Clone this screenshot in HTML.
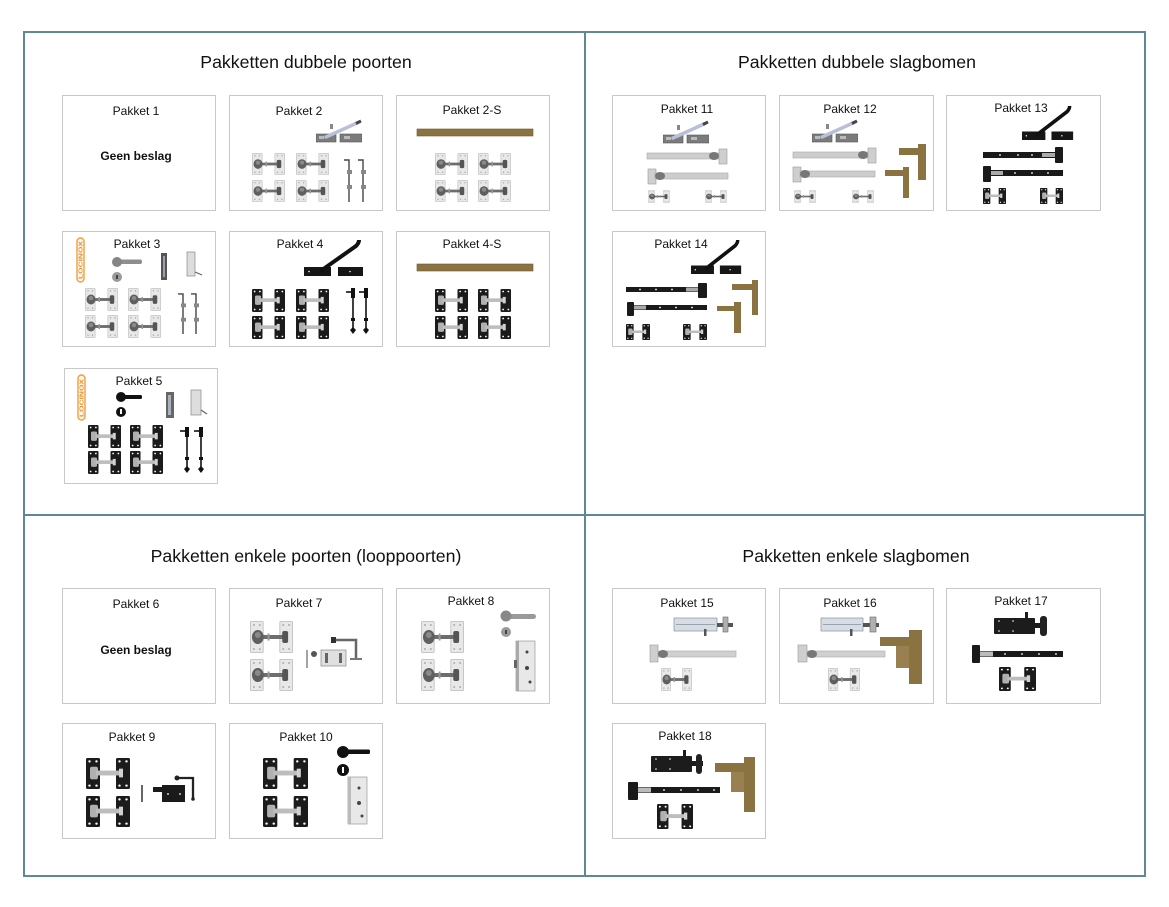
<!DOCTYPE html>
<html>
<head>
<meta charset="utf-8">
<style>
html,body{margin:0;padding:0;background:#fff;}
svg{display:block;}
text{font-family:"Liberation Sans",Arial,sans-serif;}
</style>
</head>
<body>
<svg width="1169" height="907" viewBox="0 0 1169 907" xmlns="http://www.w3.org/2000/svg">
<defs>
  <!-- galvanized hinge pair -->
  <symbol id="hg" viewBox="0 0 44 32" preserveAspectRatio="none">
    <rect x="0.5" y="0.5" width="13" height="31" rx="1" fill="#e8e8e8" stroke="#c6c6c6"/>
    <rect x="30.5" y="0.5" width="13" height="31" rx="1" fill="#e8e8e8" stroke="#c6c6c6"/>
    <circle cx="4" cy="4" r="1" fill="#aaa"/><circle cx="10" cy="4" r="1" fill="#aaa"/>
    <circle cx="4" cy="28" r="1" fill="#aaa"/><circle cx="10" cy="28" r="1" fill="#aaa"/>
    <circle cx="34" cy="4" r="1" fill="#aaa"/><circle cx="40" cy="4" r="1" fill="#aaa"/>
    <circle cx="34" cy="28" r="1" fill="#aaa"/><circle cx="40" cy="28" r="1" fill="#aaa"/>
    <rect x="10" y="14" width="26" height="4" fill="#6d6d6d"/>
    <ellipse cx="8" cy="16" rx="6" ry="7" fill="#5f5f5f"/>
    <ellipse cx="8" cy="14" rx="3" ry="3" fill="#8a8a8a"/>
    <rect x="18" y="12.5" width="2" height="7" fill="#999"/>
    <rect x="33" y="10" width="6" height="12" rx="2" fill="#555"/>
  </symbol>
  <!-- black hinge pair -->
  <symbol id="hb" viewBox="0 0 44 32" preserveAspectRatio="none">
    <rect x="0" y="0" width="14" height="32" rx="1.5" fill="#1b1b1b"/>
    <rect x="30" y="0" width="14" height="32" rx="1.5" fill="#1b1b1b"/>
    <circle cx="3.5" cy="3.5" r="1.2" fill="#fff"/><circle cx="10.5" cy="3.5" r="1.2" fill="#fff"/>
    <circle cx="3.5" cy="28.5" r="1.2" fill="#fff"/><circle cx="10.5" cy="28.5" r="1.2" fill="#fff"/>
    <circle cx="33.5" cy="3.5" r="1.2" fill="#fff"/><circle cx="40.5" cy="3.5" r="1.2" fill="#fff"/>
    <circle cx="33.5" cy="28.5" r="1.2" fill="#fff"/><circle cx="40.5" cy="28.5" r="1.2" fill="#fff"/>
    <rect x="4" y="9" width="8" height="13" rx="2" fill="#b0b0b0"/>
    <rect x="10" y="13" width="25" height="5" fill="#bdbdbd"/>
    <rect x="33" y="11" width="4" height="9" fill="#d0d0d0"/>
  </symbol>
  <!-- galvanized drop bolt -->
  <symbol id="dg" viewBox="0 0 12 44" preserveAspectRatio="none">
    <path d="M1 2 H6 V44" stroke="#444" stroke-width="1.4" fill="none"/>
    <rect x="4" y="12" width="5" height="4" fill="#888"/>
    <rect x="4" y="27" width="5" height="4" fill="#888"/>
  </symbol>
  <!-- black drop bolt -->
  <symbol id="dk" viewBox="0 0 12 47" preserveAspectRatio="none">
    <line x1="7" y1="2" x2="7" y2="44" stroke="#111" stroke-width="1.6"/>
    <rect x="5" y="0" width="4" height="10" fill="#111"/>
    <line x1="0" y1="4" x2="5" y2="4" stroke="#111" stroke-width="1.6"/>
    <rect x="5" y="30" width="4" height="3" fill="#111"/>
    <path d="M7 39 L10 42 L7 46 L4 42Z" fill="#111"/>
  </symbol>
  <!-- galvanized latch -->
  <symbol id="lg" viewBox="0 0 46 24" preserveAspectRatio="none">
    <rect x="0" y="15" width="20" height="8" fill="#7b7b7b" stroke="#555" stroke-width="0.6"/>
    <rect x="24" y="15" width="22" height="8" fill="#7b7b7b" stroke="#555" stroke-width="0.6"/>
    <rect x="3" y="17" width="5" height="3" fill="#bbb"/><rect x="28" y="17" width="6" height="3" fill="#bbb"/>
    <line x1="10" y1="18" x2="41" y2="4" stroke="#b8bfd8" stroke-width="3.5" stroke-linecap="round"/>
    <line x1="40" y1="4.5" x2="45" y2="2" stroke="#444" stroke-width="3"/>
    <rect x="14" y="5" width="3" height="5" fill="#888"/>
  </symbol>
  <!-- black latch -->
  <symbol id="lk" viewBox="0 0 60 36" preserveAspectRatio="none">
    <rect x="0" y="27" width="27" height="9" fill="#161616"/>
    <rect x="34" y="27" width="25" height="9" fill="#161616"/>
    <circle cx="5" cy="31.5" r="0.8" fill="#fff"/><circle cx="46" cy="31.5" r="0.8" fill="#fff"/>
    <path d="M18 30 L52 6 Q55 3 55 0" stroke="#111" stroke-width="4" fill="none" stroke-linecap="round"/>
  </symbol>
</defs>

<rect width="1169" height="907" fill="#fff"/>

<!-- frame -->
<rect x="24" y="32" width="1121" height="844" fill="none" stroke="#5e8898" stroke-width="2"/>
<line x1="585" y1="32" x2="585" y2="876" stroke="#5e8898" stroke-width="2"/>
<line x1="24" y1="515" x2="1145" y2="515" stroke="#5e8898" stroke-width="2"/>

<!-- titles -->
<g font-size="17.7" fill="#111" text-anchor="middle">
  <text x="306" y="68">Pakketten dubbele poorten</text>
  <text x="857" y="68">Pakketten dubbele slagbomen</text>
  <text x="306" y="562">Pakketten enkele poorten (looppoorten)</text>
  <text x="856" y="562">Pakketten enkele slagbomen</text>
</g>

<!-- boxes -->
<g fill="none" stroke="#c8c8c8" stroke-width="1">
  <rect x="62.5" y="95.5" width="153" height="115"/>
  <rect x="229.5" y="95.5" width="153" height="115"/>
  <rect x="396.5" y="95.5" width="153" height="115"/>
  <rect x="62.5" y="231.5" width="153" height="115"/>
  <rect x="229.5" y="231.5" width="153" height="115"/>
  <rect x="396.5" y="231.5" width="153" height="115"/>
  <rect x="64.5" y="368.5" width="153" height="115"/>
  <rect x="612.5" y="95.5" width="153" height="115"/>
  <rect x="779.5" y="95.5" width="154" height="115"/>
  <rect x="946.5" y="95.5" width="154" height="115"/>
  <rect x="612.5" y="231.5" width="153" height="115"/>
  <rect x="62.5" y="588.5" width="153" height="115"/>
  <rect x="229.5" y="588.5" width="153" height="115"/>
  <rect x="396.5" y="588.5" width="153" height="115"/>
  <rect x="62.5" y="723.5" width="153" height="115"/>
  <rect x="229.5" y="723.5" width="153" height="115"/>
  <rect x="612.5" y="588.5" width="153" height="115"/>
  <rect x="779.5" y="588.5" width="154" height="115"/>
  <rect x="946.5" y="588.5" width="154" height="115"/>
  <rect x="612.5" y="723.5" width="153" height="115"/>
</g>

<!-- labels -->
<g font-size="12" fill="#111" text-anchor="middle">
  <text x="136" y="115">Pakket 1</text>
  <text x="299" y="115">Pakket 2</text>
  <text x="472" y="114">Pakket 2-S</text>
  <text x="137" y="248">Pakket 3</text>
  <text x="300" y="248">Pakket 4</text>
  <text x="472" y="248">Pakket 4-S</text>
  <text x="139" y="385">Pakket 5</text>
  <text x="687" y="113">Pakket 11</text>
  <text x="850" y="113">Pakket 12</text>
  <text x="1021" y="112">Pakket 13</text>
  <text x="681" y="248">Pakket 14</text>
  <text x="136" y="608">Pakket 6</text>
  <text x="299" y="607">Pakket 7</text>
  <text x="471" y="605">Pakket 8</text>
  <text x="132" y="741">Pakket 9</text>
  <text x="306" y="741">Pakket 10</text>
  <text x="687" y="607">Pakket 15</text>
  <text x="850" y="607">Pakket 16</text>
  <text x="1021" y="605">Pakket 17</text>
  <text x="685" y="740">Pakket 18</text>
</g>
<g font-size="12" font-weight="bold" fill="#111" text-anchor="middle">
  <text x="136" y="160">Geen beslag</text>
  <text x="136" y="654">Geen beslag</text>
</g>

<!-- Pakket 2 -->
<use href="#lg" x="316" y="119" width="46" height="24"/>
<use href="#hg" x="252" y="153" width="33" height="22"/>
<use href="#hg" x="296" y="153" width="33" height="22"/>
<use href="#hg" x="252" y="180" width="33" height="22"/>
<use href="#hg" x="296" y="180" width="33" height="22"/>
<use href="#dg" x="343" y="158" width="12" height="44"/>
<use href="#dg" x="357" y="158" width="12" height="44"/>

<!-- Pakket 2-S -->
<rect x="417" y="129" width="116" height="7" fill="#8b7241" stroke="#6d5a30" stroke-width="0.6"/>
<use href="#hg" x="435" y="153" width="33" height="22"/>
<use href="#hg" x="478" y="153" width="33" height="22"/>
<use href="#hg" x="435" y="180" width="33" height="22"/>
<use href="#hg" x="478" y="180" width="33" height="22"/>

<!-- Pakket 3 -->
<rect x="77" y="238" width="7" height="44" rx="3.5" fill="#fff8ee" stroke="#f0a040" stroke-width="1.4"/>
<text transform="translate(82.5,279) rotate(-90)" font-size="5.5" font-weight="bold" fill="#e8902a" textLength="38" lengthAdjust="spacingAndGlyphs">LOCINOX</text>
<rect x="117" y="259.5" width="25" height="4.5" rx="2" fill="#8e8e8e"/>
<circle cx="117" cy="262" r="5" fill="#858585"/>
<circle cx="117" cy="277" r="5" fill="#9a9a9a"/>
<rect x="116" y="275" width="2" height="4" fill="#444"/>
<rect x="161" y="253" width="6" height="27" fill="#555"/>
<rect x="163" y="256" width="2" height="21" fill="#9aa0b0"/>
<rect x="187" y="252" width="8" height="24" fill="#ddd" stroke="#888" stroke-width="0.7"/>
<line x1="195" y1="272" x2="202" y2="275" stroke="#666" stroke-width="1.2"/>
<use href="#hg" x="85" y="288" width="33" height="23"/>
<use href="#hg" x="128" y="288" width="33" height="23"/>
<use href="#hg" x="85" y="315" width="33" height="23"/>
<use href="#hg" x="128" y="315" width="33" height="23"/>
<use href="#dg" x="177" y="292" width="12" height="42"/>
<use href="#dg" x="190" y="292" width="12" height="42"/>

<!-- Pakket 4 -->
<use href="#lk" x="304" y="240" width="60" height="36"/>
<use href="#hb" x="252" y="289" width="33" height="23"/>
<use href="#hb" x="296" y="289" width="33" height="23"/>
<use href="#hb" x="252" y="316" width="33" height="23"/>
<use href="#hb" x="296" y="316" width="33" height="23"/>
<use href="#dk" x="346" y="288" width="12" height="47"/>
<use href="#dk" x="359" y="288" width="12" height="47"/>

<!-- Pakket 4-S -->
<rect x="417" y="264" width="116" height="7" fill="#8b7241" stroke="#6d5a30" stroke-width="0.6"/>
<use href="#hb" x="435" y="289" width="33" height="23"/>
<use href="#hb" x="478" y="289" width="33" height="23"/>
<use href="#hb" x="435" y="316" width="33" height="23"/>
<use href="#hb" x="478" y="316" width="33" height="23"/>

<!-- Pakket 5 -->
<rect x="78" y="375" width="7" height="45" rx="3.5" fill="#fff8ee" stroke="#f0a040" stroke-width="1.4"/>
<text transform="translate(83.5,417) rotate(-90)" font-size="5.5" font-weight="bold" fill="#e8902a" textLength="38" lengthAdjust="spacingAndGlyphs">LOCINOX</text>
<rect x="121" y="395" width="21" height="4" rx="1.5" fill="#111"/>
<circle cx="121" cy="397" r="5" fill="#111"/>
<circle cx="121" cy="412" r="5" fill="#111"/>
<rect x="120" y="409" width="2" height="5" fill="#fff"/>
<rect x="166" y="392" width="8" height="26" fill="#666"/>
<rect x="168" y="395" width="3" height="20" fill="#aab0c0"/>
<rect x="191" y="390" width="10" height="25" fill="#ddd" stroke="#888" stroke-width="0.7"/>
<line x1="201" y1="410" x2="207" y2="414" stroke="#666" stroke-width="1.2"/>
<use href="#hb" x="88" y="425" width="33" height="23"/>
<use href="#hb" x="130" y="425" width="33" height="23"/>
<use href="#hb" x="88" y="451" width="33" height="23"/>
<use href="#hb" x="130" y="451" width="33" height="23"/>
<use href="#dk" x="180" y="427" width="12" height="47"/>
<use href="#dk" x="194" y="427" width="12" height="47"/>

<!-- Pakket 11 -->
<use href="#lg" x="663" y="120" width="46" height="24"/>
<rect x="647" y="153" width="75" height="6" fill="#cdcdcd" stroke="#a8a8a8" stroke-width="0.6"/>
<ellipse cx="714" cy="156" rx="5" ry="4" fill="#777"/>
<rect x="719" y="149" width="8" height="15" fill="#cfcfcf" stroke="#999" stroke-width="0.6"/>
<rect x="648" y="169" width="8" height="15" fill="#cfcfcf" stroke="#999" stroke-width="0.6"/>
<rect x="655" y="173" width="73" height="6" fill="#cdcdcd" stroke="#a8a8a8" stroke-width="0.6"/>
<ellipse cx="660" cy="176" rx="5" ry="4" fill="#777"/>
<use href="#hg" x="648" y="190" width="22" height="13"/>
<use href="#hg" x="705" y="190" width="22" height="13"/>

<!-- Pakket 12 -->
<use href="#lg" x="812" y="119" width="46" height="24"/>
<rect x="793" y="152" width="75" height="6" fill="#cdcdcd" stroke="#a8a8a8" stroke-width="0.6"/>
<ellipse cx="863" cy="155" rx="5" ry="4" fill="#777"/>
<rect x="868" y="148" width="8" height="15" fill="#cfcfcf" stroke="#999" stroke-width="0.6"/>
<rect x="793" y="167" width="8" height="15" fill="#cfcfcf" stroke="#999" stroke-width="0.6"/>
<rect x="800" y="171" width="75" height="6" fill="#cdcdcd" stroke="#a8a8a8" stroke-width="0.6"/>
<ellipse cx="805" cy="174" rx="5" ry="4" fill="#777"/>
<use href="#hg" x="794" y="190" width="22" height="13"/>
<use href="#hg" x="852" y="190" width="22" height="13"/>
<rect x="918" y="144" width="8" height="36" fill="#8b7241"/>
<rect x="899" y="148" width="19" height="7" fill="#8b7241"/>
<rect x="903" y="167" width="6" height="31" fill="#8b7241"/>
<rect x="885" y="170" width="18" height="6" fill="#8b7241"/>

<!-- Pakket 13 -->
<use href="#lk" x="1022" y="106" width="52" height="34"/>
<rect x="983" y="152" width="72" height="6" fill="#1a1a1a"/>
<rect x="1042" y="153" width="13" height="4" fill="#aaa"/>
<rect x="1055" y="147" width="8" height="16" rx="1" fill="#1a1a1a"/>
<rect x="983" y="166" width="8" height="16" rx="1" fill="#1a1a1a"/>
<rect x="991" y="170" width="72" height="6" fill="#1a1a1a"/>
<rect x="991" y="171" width="12" height="4" fill="#aaa"/>
<g fill="#fff"><circle cx="1000" cy="155" r="0.9"/><circle cx="1018" cy="155" r="0.9"/><circle cx="1032" cy="155" r="0.9"/><circle cx="1015" cy="173" r="0.9"/><circle cx="1032" cy="173" r="0.9"/><circle cx="1048" cy="173" r="0.9"/></g>
<use href="#hb" x="983" y="188" width="23" height="16"/>
<use href="#hb" x="1040" y="188" width="23" height="16"/>

<!-- Pakket 14 -->
<use href="#lk" x="691" y="240" width="51" height="34"/>
<rect x="626" y="287" width="74" height="5" fill="#1a1a1a"/>
<rect x="686" y="287.5" width="12" height="4" fill="#aaa"/>
<rect x="698" y="283" width="9" height="15" rx="1" fill="#1a1a1a"/>
<rect x="627" y="302" width="7" height="14" rx="1" fill="#1a1a1a"/>
<rect x="634" y="305" width="73" height="5" fill="#1a1a1a"/>
<rect x="634" y="305.5" width="12" height="4" fill="#aaa"/>
<g fill="#fff"><circle cx="640" cy="289.5" r="0.9"/><circle cx="656" cy="289.5" r="0.9"/><circle cx="672" cy="289.5" r="0.9"/><circle cx="660" cy="307.5" r="0.9"/><circle cx="676" cy="307.5" r="0.9"/><circle cx="692" cy="307.5" r="0.9"/></g>
<use href="#hb" x="626" y="324" width="24" height="16"/>
<use href="#hb" x="683" y="324" width="24" height="16"/>
<rect x="752" y="280" width="6" height="35" fill="#8b7241"/>
<rect x="732" y="284" width="20" height="6" fill="#8b7241"/>
<rect x="734" y="302" width="7" height="31" fill="#8b7241"/>
<rect x="717" y="306" width="17" height="5" fill="#8b7241"/>

<!-- Pakket 7 -->
<use href="#hg" x="250" y="621" width="43" height="32"/>
<use href="#hg" x="250" y="659" width="43" height="32"/>
<line x1="307" y1="650" x2="307" y2="668" stroke="#666" stroke-width="1.2"/>
<circle cx="314" cy="654" r="3" fill="#555"/>
<rect x="321" y="650" width="25" height="16" fill="#e0e0e0" stroke="#888" stroke-width="0.7"/>
<rect x="325" y="653" width="3" height="10" fill="#666"/>
<rect x="339" y="653" width="3" height="10" fill="#666"/>
<path d="M334 640 H356 V658" stroke="#666" stroke-width="2.5" fill="none"/>
<rect x="331" y="637" width="5" height="6" fill="#333"/>
<line x1="350" y1="659" x2="362" y2="659" stroke="#777" stroke-width="2"/>

<!-- Pakket 8 -->
<use href="#hg" x="421" y="621" width="43" height="32"/>
<use href="#hg" x="421" y="659" width="43" height="32"/>
<rect x="506" y="614" width="30" height="5" rx="2.5" fill="#9a9a9a"/>
<circle cx="506" cy="616" r="5.5" fill="#888"/>
<circle cx="506" cy="632" r="5" fill="#9a9a9a"/>
<rect x="505" y="630" width="2" height="4" fill="#444"/>
<rect x="516" y="641" width="19" height="50" fill="#e8e8e8" stroke="#999" stroke-width="0.7"/>
<rect x="516" y="641" width="3" height="50" fill="#aaa"/>
<circle cx="527" cy="652" r="1.5" fill="#444"/><circle cx="527" cy="668" r="2" fill="#444"/><circle cx="530" cy="682" r="1.5" fill="#444"/>
<rect x="514" y="660" width="3" height="8" fill="#666"/>

<!-- Pakket 9 -->
<use href="#hb" x="86" y="758" width="44" height="31"/>
<use href="#hb" x="86" y="796" width="44" height="31"/>
<line x1="142" y1="785" x2="142" y2="802" stroke="#555" stroke-width="1.8"/>
<rect x="162" y="785" width="23" height="17" fill="#1a1a1a"/>
<rect x="153" y="787" width="10" height="5" fill="#1a1a1a"/>
<circle cx="168" cy="794" r="0.9" fill="#fff"/><circle cx="180" cy="794" r="0.9" fill="#fff"/>
<path d="M177 778 H193 V798" stroke="#222" stroke-width="2.3" fill="none"/>
<circle cx="177" cy="778" r="2.5" fill="#222"/>
<circle cx="193" cy="799" r="1.8" fill="#222"/>

<!-- Pakket 10 -->
<use href="#hb" x="263" y="758" width="45" height="31"/>
<use href="#hb" x="263" y="796" width="45" height="31"/>
<rect x="343" y="749.5" width="27" height="4.5" rx="1.5" fill="#111"/>
<circle cx="343" cy="752" r="6" fill="#111"/>
<circle cx="343" cy="770" r="6" fill="#111"/>
<rect x="342" y="767" width="2" height="6" fill="#fff"/>
<rect x="348" y="777" width="19" height="47" fill="#e8e8e8" stroke="#999" stroke-width="0.7"/>
<rect x="348" y="777" width="3" height="47" fill="#bbb"/>
<circle cx="359" cy="788" r="1.5" fill="#444"/><circle cx="359" cy="803" r="2" fill="#444"/><circle cx="362" cy="816" r="1.5" fill="#444"/>

<!-- Pakket 15 -->
<rect x="674" y="618" width="43" height="13" fill="#d6dde4" stroke="#8a9099" stroke-width="0.7"/>
<line x1="676" y1="624.5" x2="715" y2="624.5" stroke="#9aa2ad" stroke-width="1"/>
<rect x="717" y="623" width="16" height="4" fill="#555"/>
<rect x="723" y="617" width="5" height="15" fill="#b0b0b0" stroke="#666" stroke-width="0.6"/>
<rect x="704" y="629" width="2.5" height="7" fill="#555"/>
<rect x="658" y="651" width="78" height="6" fill="#d0d0d0" stroke="#a8a8a8" stroke-width="0.6"/>
<rect x="650" y="645" width="8" height="17" fill="#cfcfcf" stroke="#999" stroke-width="0.6"/>
<ellipse cx="663" cy="654" rx="5" ry="4" fill="#777"/>
<use href="#hg" x="661" y="668" width="31" height="23"/>

<!-- Pakket 16 -->
<rect x="821" y="618" width="42" height="13" fill="#d6dde4" stroke="#8a9099" stroke-width="0.7"/>
<line x1="823" y1="624.5" x2="861" y2="624.5" stroke="#9aa2ad" stroke-width="1"/>
<rect x="863" y="623" width="16" height="4" fill="#555"/>
<rect x="870" y="617" width="6" height="15" fill="#b0b0b0" stroke="#666" stroke-width="0.6"/>
<rect x="850" y="629" width="2.5" height="7" fill="#555"/>
<rect x="807" y="651" width="78" height="6" fill="#d0d0d0" stroke="#a8a8a8" stroke-width="0.6"/>
<rect x="798" y="645" width="9" height="17" fill="#cfcfcf" stroke="#999" stroke-width="0.6"/>
<ellipse cx="812" cy="654" rx="5" ry="4" fill="#777"/>
<use href="#hg" x="828" y="668" width="32" height="23"/>
<rect x="909" y="630" width="13" height="54" fill="#8b7241"/>
<rect x="880" y="637" width="29" height="9" fill="#8b7241"/>
<rect x="896" y="646" width="13" height="22" fill="#9a8050"/>

<!-- Pakket 17 -->
<rect x="994" y="618" width="41" height="16" rx="1" fill="#1c1c1c"/>
<g fill="#fff"><circle cx="999" cy="621" r="0.8"/><circle cx="1013" cy="621" r="0.8"/><circle cx="999" cy="631" r="0.8"/><circle cx="1013" cy="631" r="0.8"/></g>
<rect x="1025" y="612" width="3" height="7" fill="#1c1c1c"/>
<rect x="1035" y="623" width="12" height="5" fill="#1c1c1c"/>
<rect x="1040" y="616" width="7" height="20" rx="3" fill="#222"/>
<rect x="980" y="651" width="83" height="6" fill="#1a1a1a"/>
<rect x="980" y="651.5" width="13" height="5" fill="#bbb"/>
<rect x="972" y="645" width="8" height="18" rx="1" fill="#1a1a1a"/>
<g fill="#fff"><circle cx="1005" cy="654" r="0.9"/><circle cx="1022" cy="654" r="0.9"/><circle cx="1039" cy="654" r="0.9"/><circle cx="1056" cy="654" r="0.9"/></g>
<use href="#hb" x="999" y="667" width="37" height="24"/>

<!-- Pakket 18 -->
<rect x="651" y="756" width="41" height="16" rx="1" fill="#1c1c1c"/>
<g fill="#fff"><circle cx="656" cy="759" r="0.8"/><circle cx="670" cy="759" r="0.8"/><circle cx="656" cy="769" r="0.8"/><circle cx="670" cy="769" r="0.8"/></g>
<rect x="683" y="750" width="3" height="7" fill="#1c1c1c"/>
<rect x="692" y="761" width="11" height="5" fill="#1c1c1c"/>
<rect x="696" y="754" width="6" height="20" rx="3" fill="#222"/>
<rect x="638" y="787" width="82" height="6" fill="#1a1a1a"/>
<rect x="638" y="787.5" width="13" height="5" fill="#bbb"/>
<rect x="628" y="782" width="10" height="18" rx="1" fill="#1a1a1a"/>
<g fill="#fff"><circle cx="664" cy="790" r="0.9"/><circle cx="681" cy="790" r="0.9"/><circle cx="698" cy="790" r="0.9"/><circle cx="714" cy="790" r="0.9"/></g>
<use href="#hb" x="657" y="804" width="36" height="25"/>
<rect x="744" y="757" width="11" height="55" fill="#8b7241"/>
<rect x="715" y="763" width="29" height="9" fill="#8b7241"/>
<rect x="731" y="772" width="13" height="20" fill="#9a8050"/>
</svg>
</body>
</html>
